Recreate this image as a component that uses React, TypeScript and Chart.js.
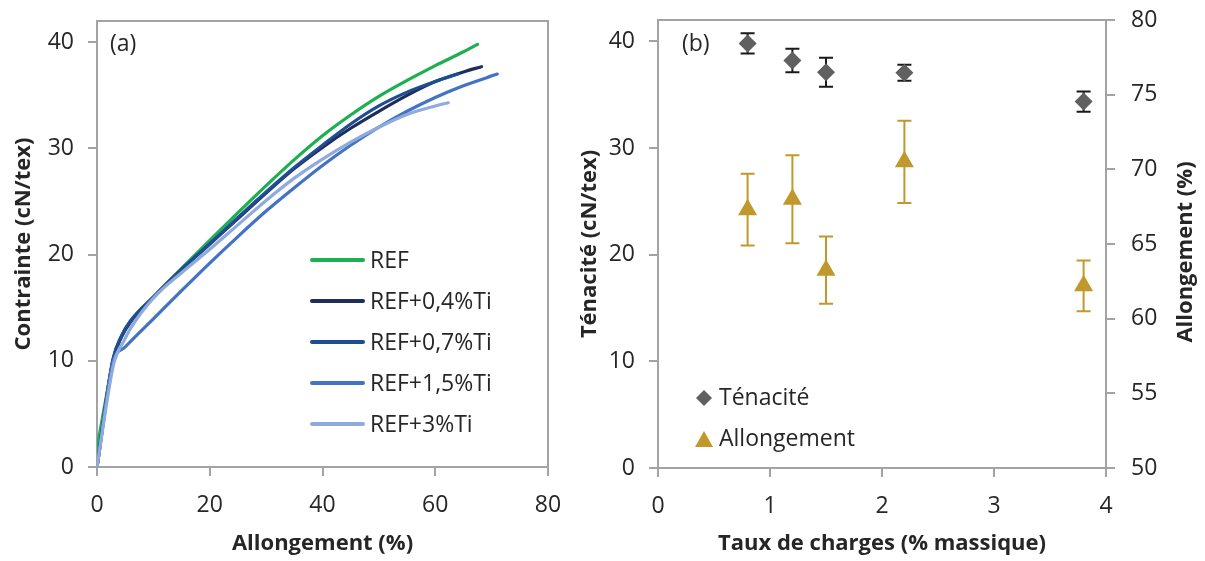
import React, { useEffect, useRef } from "react";
import { Chart, registerables } from "chart.js";
Chart.register(...registerables);

const FONT = "'Open Sans', sans-serif";
const AXIS = "#A3A3A3";
const TEXT = "#262626";

// ---------- Panel (a): stress-strain curves ----------
const refX = [0, 3.0, 4.3, 6, 10, 15, 20, 25, 30, 35, 40, 45, 50, 55, 60, 65, 67.5];
const refY = [1.8, 10.2, 12.3, 13.8, 16.0, 18.7, 21.35, 23.95, 26.5, 28.95, 31.2, 33.15, 34.9, 36.4, 37.8, 39.1, 39.8];

const ti04X = [0, 2.8, 4.4, 6, 10, 15, 20, 25, 30, 35, 40, 45, 50, 55, 60, 65, 68.2];
const ti04Y = [0, 10.0, 12.3, 13.7, 16.0, 18.6, 21.0, 23.4, 25.8, 28.1, 30.1, 31.9, 33.5, 35.0, 36.3, 37.2, 37.7];

const ti07X = [0, 2.8, 4.4, 6, 10, 15, 20, 25, 30, 35, 40, 45, 50, 55, 60, 64];
const ti07Y = [0, 10.1, 12.4, 13.8, 16.0, 18.6, 21.0, 23.5, 25.9, 28.2, 30.3, 32.3, 34.0, 35.3, 36.3, 37.0];

const ti15X = [0, 2.8, 5.0, 10, 15, 20, 25, 30, 35, 40, 45, 50, 55, 60, 65, 71];
const ti15Y = [0, 9.8, 11.3, 13.95, 16.6, 19.2, 21.7, 24.1, 26.3, 28.4, 30.3, 32.0, 33.5, 34.8, 35.9, 37.0];

const ti3X = [0, 3.0, 4.8, 6, 10, 15, 20, 25, 30, 35, 40, 45, 50, 55, 60, 62.3];
const ti3Y = [0, 9.8, 11.9, 13.1, 15.9, 18.3, 20.5, 22.8, 25.1, 27.2, 29.0, 30.6, 32.0, 33.2, 34.0, 34.3];

const labelsA = ["REF", "REF+0,4%Ti", "REF+0,7%Ti", "REF+1,5%Ti", "REF+3%Ti"];
const colorsA = ["#1DB050", "#1F2D5A", "#1E4D94", "#4472C4", "#8FAADC"];
const xsA = [refX, ti04X, ti07X, ti15X, ti3X];
const ysA = [refY, ti04Y, ti07Y, ti15Y, ti3Y];

const xTicksA = { min: 0, max: 80, step: 20 };
const yTicksA = { min: 0, max: 42, step: 10 };

// ---------- Panel (b): tenacity & elongation ----------
const taux = [0.8, 1.2, 1.5, 2.2, 3.8];
const tenacite = [39.8, 38.2, 37.1, 37.05, 34.35];
const tenaciteErr = [0.95, 1.1, 1.35, 0.75, 0.95];
const allongement = [67.3, 68.0, 63.25, 70.5, 62.2];
const allongementErr = [2.4, 2.95, 2.25, 2.75, 1.7];

const xTicksB = { min: 0, max: 4, step: 1 };
const yTicksB = { min: 0, max: 42, step: 10 };
const y2TicksB = { min: 50, max: 80, step: 5 };

const DIAMOND = "#606060";
const GOLD = "#C0982C";

const tickFont = { family: FONT, size: 23 };

function axisCommon(extra: any) {
  return {
    type: "linear",
    grid: { drawOnChartArea: false, color: AXIS, lineWidth: 2, tickLength: 9 },
    border: { color: AXIS, width: 2 },
    ...extra,
  };
}

function fixV(width: number) {
  return (s: any) => {
    s.width = width;
    s.paddingTop = 0;
    s.paddingBottom = 0;
  };
}
function fixH(height: number) {
  return (s: any) => {
    s.height = height;
    s.paddingLeft = 0;
    s.paddingRight = 0;
  };
}

const panelAPlugin = {
  id: "panelA",
  afterDraw(chart: any) {
    const { ctx, chartArea: a } = chart;
    ctx.save();
    ctx.strokeStyle = AXIS;
    ctx.lineWidth = 2;
    ctx.beginPath();
    ctx.moveTo(a.left, a.top);
    ctx.lineTo(a.right, a.top);
    ctx.lineTo(a.right, a.bottom);
    ctx.stroke();

    ctx.fillStyle = TEXT;
    ctx.font = `23px ${FONT}`;
    ctx.textBaseline = "middle";
    ctx.textAlign = "left";
    ctx.fillText("(a)", 110, 44);

    chart.data.datasets.forEach((d: any, i: number) => {
      const y = 260 + i * 41;
      ctx.strokeStyle = d.borderColor;
      ctx.lineWidth = 4;
      ctx.lineCap = "round";
      ctx.beginPath();
      ctx.moveTo(312, y);
      ctx.lineTo(363, y);
      ctx.stroke();
      ctx.fillStyle = TEXT;
      ctx.fillText(d.label, 370, y + 1);
    });

    ctx.font = `bold 22px ${FONT}`;
    ctx.textAlign = "center";
    ctx.fillText("Allongement (%)", (a.left + a.right) / 2, 544);
    ctx.translate(24, (a.top + a.bottom) / 2);
    ctx.rotate(-Math.PI / 2);
    ctx.fillText("Contrainte (cN/tex)", 0, 0);
    ctx.restore();
  },
};

const panelBPlugin = {
  id: "panelB",
  beforeDatasetsDraw(chart: any) {
    const { ctx, scales } = chart;
    const draw = (vals: number[], errs: number[], axis: string, color: string) => {
      ctx.strokeStyle = color;
      ctx.lineWidth = 2;
      taux.forEach((t, i) => {
        const x = scales.x.getPixelForValue(t);
        const yt = scales[axis].getPixelForValue(vals[i] + errs[i]);
        const yb = scales[axis].getPixelForValue(vals[i] - errs[i]);
        ctx.beginPath();
        ctx.moveTo(x, yt);
        ctx.lineTo(x, yb);
        ctx.moveTo(x - 7, yt);
        ctx.lineTo(x + 7, yt);
        ctx.moveTo(x - 7, yb);
        ctx.lineTo(x + 7, yb);
        ctx.stroke();
      });
    };
    ctx.save();
    draw(tenacite, tenaciteErr, "y", "#1A1A1A");
    draw(allongement, allongementErr, "y2", GOLD);
    ctx.restore();
  },
  afterDraw(chart: any) {
    const { ctx, chartArea: a } = chart;
    ctx.save();
    ctx.strokeStyle = AXIS;
    ctx.lineWidth = 2;
    ctx.beginPath();
    ctx.moveTo(a.left, a.top);
    ctx.lineTo(a.right, a.top);
    ctx.stroke();

    ctx.fillStyle = TEXT;
    ctx.font = `23px ${FONT}`;
    ctx.textBaseline = "middle";
    ctx.textAlign = "left";
    ctx.fillText("(b)", 112, 44);

    // legend
    const lx = 134;
    ctx.fillStyle = DIAMOND;
    ctx.beginPath();
    ctx.moveTo(lx, 398 - 8);
    ctx.lineTo(lx + 8, 398);
    ctx.lineTo(lx, 398 + 8);
    ctx.lineTo(lx - 8, 398);
    ctx.closePath();
    ctx.fill();
    ctx.fillStyle = GOLD;
    ctx.beginPath();
    ctx.moveTo(lx, 431);
    ctx.lineTo(lx + 9, 447);
    ctx.lineTo(lx - 9, 447);
    ctx.closePath();
    ctx.fill();
    ctx.fillStyle = TEXT;
    ctx.fillText("Ténacité", 149, 398);
    ctx.fillText("Allongement", 149, 439);

    ctx.font = `bold 22px ${FONT}`;
    ctx.textAlign = "center";
    ctx.fillText("Taux de charges (% massique)", (a.left + a.right) / 2, 544);
    ctx.save();
    ctx.translate(20, (a.top + a.bottom) / 2);
    ctx.rotate(-Math.PI / 2);
    ctx.fillText("Ténacité (cN/tex)", 0, 0);
    ctx.restore();
    ctx.translate(616, 252);
    ctx.rotate(-Math.PI / 2);
    ctx.fillText("Allongement (%)", 0, 0);
    ctx.restore();
  },
};

export default function App() {
  const refA = useRef<HTMLCanvasElement>(null);
  const refB = useRef<HTMLCanvasElement>(null);

  useEffect(() => {
    const chartA = new Chart(refA.current as HTMLCanvasElement, {
      type: "scatter",
      data: {
        datasets: labelsA.map((label, i) => ({
          label,
          data: xsA[i].map((x, j) => ({ x, y: ysA[i][j] })),
          showLine: true,
          borderColor: colorsA[i],
          backgroundColor: colorsA[i],
          borderWidth: 3.2,
          pointRadius: 0,
          cubicInterpolationMode: "monotone",
          borderCapStyle: "round",
          order: labelsA.length - 1 - i,
        })),
      },
      options: {
        responsive: false,
        animation: false,
        layout: { padding: { top: 21, right: 22, left: 0, bottom: 0 } },
        plugins: { legend: { display: false }, tooltip: { enabled: false } },
        scales: {
          x: axisCommon({
            min: xTicksA.min,
            max: xTicksA.max,
            ticks: { stepSize: xTicksA.step, font: tickFont, color: TEXT, padding: 16, includeBounds: false, maxRotation: 0 },
            afterFit: fixH(94),
          }),
          y: axisCommon({
            min: yTicksA.min,
            max: yTicksA.max,
            ticks: { stepSize: yTicksA.step, font: tickFont, color: TEXT, padding: 14, includeBounds: false },
            afterFit: fixV(97),
          }),
        },
      } as any,
      plugins: [panelAPlugin],
    } as any);

    const chartB = new Chart(refB.current as HTMLCanvasElement, {
      type: "scatter",
      data: {
        datasets: [
          {
            label: "Ténacité",
            data: taux.map((x, i) => ({ x, y: tenacite[i] })),
            yAxisID: "y",
            pointStyle: "rectRot",
            pointRadius: 9,
            backgroundColor: DIAMOND,
            borderColor: DIAMOND,
            borderWidth: 0,
          },
          {
            label: "Allongement",
            data: taux.map((x, i) => ({ x, y: allongement[i] })),
            yAxisID: "y2",
            pointStyle: "triangle",
            pointRadius: 11,
            backgroundColor: GOLD,
            borderColor: GOLD,
            borderWidth: 0,
          },
        ],
      },
      options: {
        responsive: false,
        animation: false,
        layout: { padding: { top: 20, right: 0, left: 0, bottom: 0 } },
        plugins: { legend: { display: false }, tooltip: { enabled: false } },
        scales: {
          x: axisCommon({
            min: xTicksB.min,
            max: xTicksB.max,
            ticks: { stepSize: xTicksB.step, font: tickFont, color: TEXT, padding: 16, includeBounds: false, maxRotation: 0 },
            afterFit: fixH(93),
          }),
          y: axisCommon({
            position: "left",
            min: yTicksB.min,
            max: yTicksB.max,
            ticks: { stepSize: yTicksB.step, font: tickFont, color: TEXT, padding: 14, includeBounds: false },
            afterFit: fixV(88),
          }),
          y2: axisCommon({
            position: "right",
            min: y2TicksB.min,
            max: y2TicksB.max,
            ticks: { stepSize: y2TicksB.step, font: tickFont, color: TEXT, padding: 16, includeBounds: false },
            afterFit: fixV(99),
          }),
        },
      } as any,
      plugins: [panelBPlugin],
    } as any);

    return () => {
      chartA.destroy();
      chartB.destroy();
    };
  }, []);

  return (
    <div style={{ position: "fixed", left: 0, top: 0, width: 1205, height: 561, background: "#fff" }}>
      <canvas ref={refA} width={570} height={561} style={{ position: "absolute", left: 0, top: 0, width: 570, height: 561 }} />
      <canvas ref={refB} width={635} height={561} style={{ position: "absolute", left: 570, top: 0, width: 635, height: 561 }} />
    </div>
  );
}
